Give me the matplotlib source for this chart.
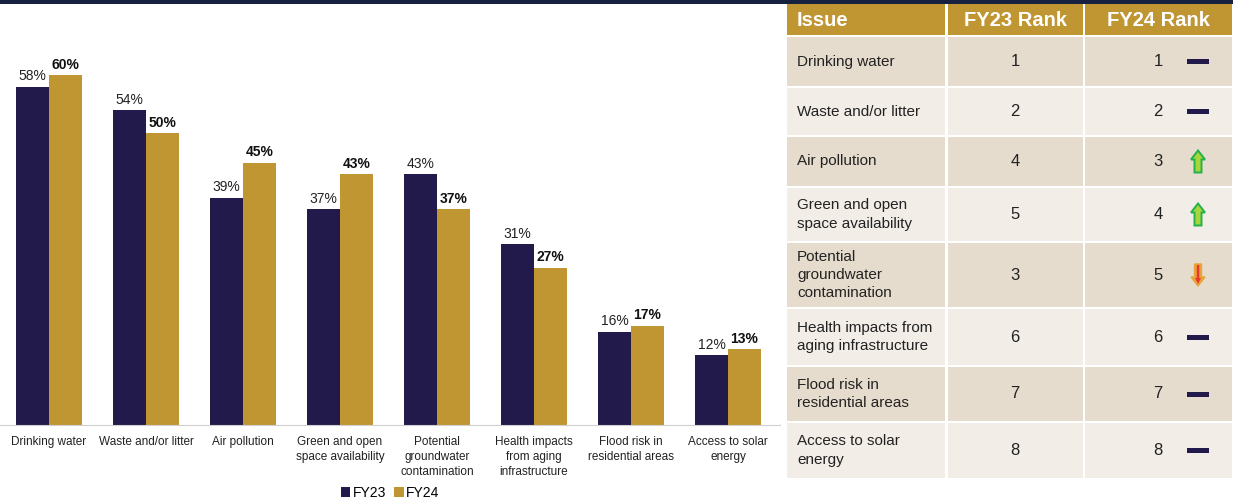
import matplotlib.pyplot as plt
import numpy as np
from matplotlib.patches import Rectangle, FancyArrow

plt.rcParams['font.family'] = ['Liberation Sans', 'DejaVu Sans']

# --- data ---
categories = ["Drinking water", "Waste and/or litter", "Air pollution",
              "Green and open\nspace availability", "Potential\ngroundwater\ncontamination",
              "Health impacts\nfrom aging\ninfrastructure", "Flood risk in\nresidential areas",
              "Access to solar\nenergy"]
fy23 = [58, 54, 39, 37, 43, 31, 16, 12]
fy24 = [60, 50, 45, 43, 37, 27, 17, 13]

issues = ["Drinking water", "Waste and/or litter", "Air pollution",
          "Green and open\nspace availability", "Potential\ngroundwater\ncontamination",
          "Health impacts from\naging infrastructure", "Flood risk in\nresidential areas",
          "Access to solar\nenergy"]
rank23 = [1, 2, 4, 5, 3, 6, 7, 8]
rank24 = [1, 2, 3, 4, 5, 6, 7, 8]
headers = ["Issue", "FY23 Rank", "FY24 Rank"]

NAVY = "#211a4b"
GOLD = "#c09632"
W, H = 1233, 503

fig = plt.figure(figsize=(W / 100, H / 100), dpi=100)

# overlay in pixel coords for band + table
ov = fig.add_axes([0, 0, 1, 1])
ov.set_xlim(0, W)
ov.set_ylim(H, 0)
ov.axis("off")
ov.add_patch(Rectangle((0, 0), W, 4, color="#17203f", lw=0))

# --- bar chart ---
ax = fig.add_axes([0, 1 - 425 / H, 780 / W, (425 - 46) / H])
ax.patch.set_alpha(0)
x = np.arange(len(categories))
bw = 0.34
b1 = ax.bar(x - bw / 2, fy23, bw, color=NAVY, label="FY23")
b2 = ax.bar(x + bw / 2, fy24, bw, color=GOLD, label="FY24")
for r, v in zip(b1, fy23):
    ax.text(r.get_x() + r.get_width() / 2, v + 0.6, f"{v}%", ha="center", va="bottom",
            fontsize=10, color="#222222")
for r, v in zip(b2, fy24):
    ax.text(r.get_x() + r.get_width() / 2, v + 0.6, f"{v}%", ha="center", va="bottom",
            fontsize=10, fontweight="bold", color="#111111")
ax.set_xlim(-49 / 97, -49 / 97 + 780 / 97)
ax.set_ylim(0, 65)
for s in ["top", "right", "left"]:
    ax.spines[s].set_visible(False)
ax.spines["bottom"].set_color("#d0d0d0")
ax.set_yticks([])
ax.set_xticks(x)
ax.set_xticklabels(categories, fontsize=8.5, color="#222222", linespacing=1.3)
ax.tick_params(axis="x", length=0, pad=8)
ax.legend(loc="center", bbox_to_anchor=(390 / 780, (425 - 493) / (425 - 46)), ncol=2,
          frameon=False, fontsize=10, handlelength=0.7, handleheight=0.7,
          handletextpad=0.15, columnspacing=0.6)

# --- table ---
cols = [(787, 945), (948, 1083), (1085, 1232)]
header_y = (4, 35)
rows_y = [(37, 86), (88, 135), (137, 186), (188, 241), (243, 307), (309, 365), (367, 421), (423, 478)]
row_colors = ["#e6dccd", "#f2ede6"]

for (x0, x1), h in zip(cols, headers):
    ov.add_patch(Rectangle((x0, header_y[0]), x1 - x0, header_y[1] - header_y[0], color=GOLD, lw=0))
yc = sum(header_y) / 2
ov.text(cols[0][0] + 10, yc + 1, headers[0], ha="left", va="center", color="white",
        fontsize=14.5, fontweight="bold")
for (x0, x1), h in zip(cols[1:], headers[1:]):
    ov.text((x0 + x1) / 2, yc + 1, h, ha="center", va="center", color="white",
            fontsize=14.5, fontweight="bold")

for i, (y0, y1) in enumerate(rows_y):
    c = row_colors[i % 2]
    for x0, x1 in cols:
        ov.add_patch(Rectangle((x0, y0), x1 - x0, y1 - y0, color=c, lw=0))
    yc = (y0 + y1) / 2
    ov.text(cols[0][0] + 10, yc, issues[i], ha="left", va="center", fontsize=11,
            color="#222222", linespacing=1.4)
    ov.text(1015, yc, str(rank23[i]), ha="center", va="center", fontsize=12, color="#222222")
    ov.text(1158, yc, str(rank24[i]), ha="center", va="center", fontsize=12, color="#222222")
    sx = 1198
    if rank24[i] == rank23[i]:
        ov.add_patch(Rectangle((sx - 11, yc - 2.5), 22, 5, color=NAVY, lw=0))
    elif rank24[i] < rank23[i]:
        ov.add_patch(FancyArrow(sx, yc + 11, 0, -22, width=7, head_width=14, head_length=9,
                                length_includes_head=True, facecolor="#a8d63a",
                                edgecolor="#22b14c", lw=1.4))
    else:
        ov.add_patch(FancyArrow(sx, yc - 11, 0, 22, width=7, head_width=14, head_length=9,
                                length_includes_head=True, facecolor="#e8a33a",
                                edgecolor="#e8a33a", lw=1.0))
        ov.add_patch(FancyArrow(sx, yc - 10, 0, 19, width=2.5, head_width=6, head_length=6,
                                length_includes_head=True, facecolor="#e83a2a",
                                edgecolor="none"))

fig.savefig("out.png", dpi=100)
